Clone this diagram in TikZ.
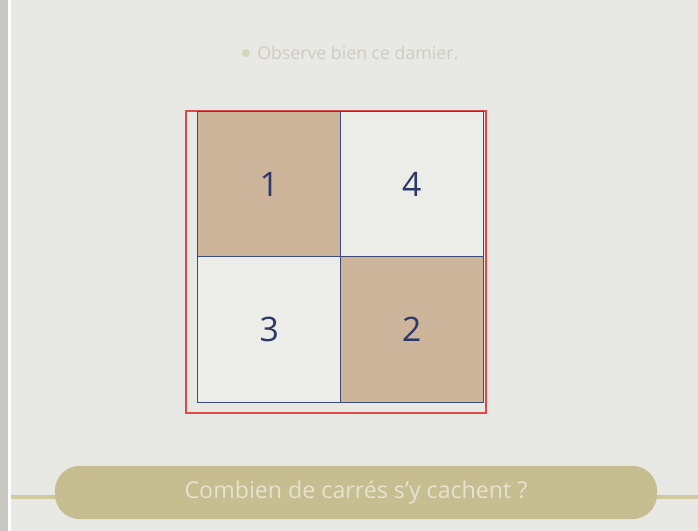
\documentclass[tikz,border=0pt]{standalone}
\usepackage{fontspec}
\setmainfont{Open Sans}
\usepackage{tikz}
\usetikzlibrary{positioning}
\definecolor{boardWhite}{HTML}{E8E9E5}
\definecolor{bezelGray}{HTML}{C9C9C1}
\definecolor{cellBrown}{HTML}{CDB59C}
\definecolor{cellWhite}{HTML}{ECECE8}
\definecolor{cellLine}{HTML}{3C4A78}
\definecolor{inkBlue}{HTML}{2C3868}
\definecolor{frameRed}{HTML}{E0484A}
\definecolor{bannerTan}{HTML}{C6BD90}
\definecolor{bannerLine}{HTML}{D2CA9F}
\definecolor{bannerText}{HTML}{E6E3CF}
\definecolor{promptGray}{HTML}{CFCBC3}
\definecolor{bulletGreen}{HTML}{D3D8BA}
\tikzset{
  damierCell/.style={draw=cellLine, line width=0.7pt, inner sep=0pt, minimum width=3.5625cm, minimum height=3.625cm, font=\fontsize{24}{24}\selectfont, text=inkBlue},
  damierDark/.style={damierCell, fill=cellBrown},
  damierLight/.style={damierCell, fill=cellWhite},
  damierFrame/.style={draw=frameRed, line width=0.9pt, inner sep=0pt, minimum width=7.5cm, minimum height=7.55cm},
  questionBanner/.style={fill=bannerTan, rounded corners=0.62cm, inner sep=0pt, minimum width=15.05cm, minimum height=1.33cm, font=\fontsize{16.5}{19}\selectfont, text=bannerText},
  promptText/.style={font=\fontsize{12.6}{15}\selectfont, text=promptGray, inner sep=0pt}
}
\begin{document}
\begin{tikzpicture}[x=0.025cm, y=-0.025cm]
  % board and bezel
  \fill[boardWhite] (0,0) rectangle (698,531);
  \fill[bezelGray] (0,0) rectangle (8,531);
  \fill[white!95!boardWhite] (8,0) rectangle (10.5,531);
  \useasboundingbox (0,0) rectangle (698,531);
  % prompt
  \node[promptText, anchor=west] (prompt) at (257,53) {Observe bien ce damier.};
  \fill[bulletGreen] ([xshift=-0.28cm]prompt.west) circle (4);
  % the checkerboard
  \node[damierFrame] (frame) at (336,262) {};
  \node[damierDark] (one) at (269.25,184.5) {1};
  \node[damierLight] (four) at (411.75,184.5) {4};
  \node[damierLight] (three) at (269.25,329.5) {3};
  \node[damierDark] (two) at (411.75,329.5) {2};
  % question banner
  \coordinate (lineW) at (10.5,497);
  \coordinate (lineE) at (698,497);
  \draw[bannerLine, line width=2.2pt] (lineW) -- (lineE);
  \node[questionBanner] (question) at (356,492.5) {Combien de carrés s’y cachent ?};
\end{tikzpicture}
\end{document}
